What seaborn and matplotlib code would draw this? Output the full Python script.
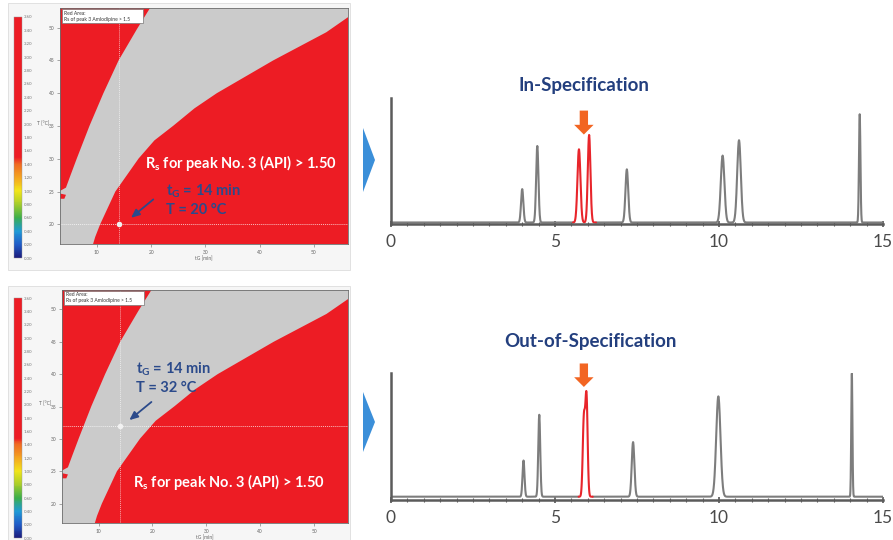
import numpy as np
import pandas as pd
import matplotlib
matplotlib.use("Agg")
import matplotlib.pyplot as plt
import seaborn as sns
from matplotlib.colors import LinearSegmentedColormap, Normalize
from matplotlib.cm import ScalarMappable
from matplotlib.patches import Polygon, Rectangle

# ---- data ----
# grey band (Rs <= 1.5) on the tG / T resolution map
left_edge_tg = [19.8, 17.4, 14.0, 11.2, 8.65, 6.3, 5.1, 4.3, 3.2]
left_edge_T = [53.0, 49.8, 45.0, 40.0, 35.05, 30.05, 27.4, 25.6, 25.1]
right_edge_tg = [9.3, 9.7, 10.6, 13.4, 17.7, 20.6, 24.1, 28.0, 32.1, 42.5, 52.3, 56.3]
right_edge_T = [17.0, 18.1, 20.0, 25.0, 30.05, 32.8, 35.05, 37.7, 40.0, 45.0, 49.3, 51.6]
blip_tg = [3.2, 4.3, 4.0, 3.2]
blip_T = [24.7, 24.5, 23.9, 23.9]

map_xticks = [10, 20, 30, 40, 50]
map_yticks = [20, 25, 30, 35, 40, 45, 50]
cbar_ticks = [0.0, 0.2, 0.4, 0.6, 0.8, 1.0, 1.2, 1.4, 1.6, 1.8, 2.0,
              2.2, 2.4, 2.6, 2.8, 3.0, 3.2, 3.4, 3.6]

working_points = [(14, 20), (14, 32)]  # (tG, T) for top / bottom map

# chromatograms: retention time, apex height, width (sigma)
top_rt = [4.00, 4.46, 5.73, 6.04, 7.19, 10.11, 10.61, 14.29]
top_h = [0.265, 0.607, 0.581, 0.695, 0.422, 0.531, 0.653, 0.859]
top_w = [0.035, 0.035, 0.045, 0.040, 0.042, 0.055, 0.055, 0.022]
top_red = (5.55, 6.25)

bot_rt = [4.04, 4.52, 5.88, 5.96, 7.38, 9.98, 14.05]
bot_h = [0.285, 0.645, 0.60, 0.78, 0.43, 0.79, 0.97]
bot_w = [0.030, 0.030, 0.035, 0.035, 0.040, 0.065, 0.018]
bot_red = (5.72, 6.15)

RED = "#ed1c24"
GREY = "#cbcbcb"
NAVY = "#2b4a8b"
TITLE = "#233f7e"

sns.set_style("white")
plt.rcParams["font.family"] = ["Lato", "DejaVu Sans"]
plt.rcParams["mathtext.fontset"] = "custom"
plt.rcParams["mathtext.rm"] = "Lato"
plt.rcParams["mathtext.bf"] = "Lato:bold"
plt.rcParams["mathtext.it"] = "Lato:italic"

W, H = 893, 540
fig = plt.figure(figsize=(W / 100, H / 100), dpi=100)


def box(x0, y0, x1, y1):
    # pixel box -> figure fraction [left, bottom, width, height]
    return [x0 / W, 1 - y1 / H, (x1 - x0) / W, (y1 - y0) / H]


cmap = LinearSegmentedColormap.from_list("rs", [
    (0.0, "#1b1c7e"), (0.2 / 3.6, "#1f5cc8"), (0.4 / 3.6, "#1e9ad6"),
    (0.6 / 3.6, "#3aae4a"), (0.8 / 3.6, "#a6cd2a"), (1.0 / 3.6, "#f2e51a"),
    (1.2 / 3.6, "#f4a41f"), (1.4 / 3.6, "#f06a22"), (1.5 / 3.6, RED),
    (1.0, RED)])


def draw_map(map_box, cbar_box, panel_box, point, texts):
    fig.patches.append(Rectangle(panel_box[:2], panel_box[2], panel_box[3],
                                 transform=fig.transFigure, fc="#f6f6f6",
                                 ec="#dddddd", lw=0.6, zorder=-5))
    ax = fig.add_axes(map_box)
    xlo, xhi, ylo, yhi = 3.2, 56.3, 17.0, 53.0
    ax.set_xlim(xlo, xhi)
    ax.set_ylim(ylo, yhi)
    ax.set_facecolor(RED)
    xs = left_edge_tg + [xlo, xlo] + right_edge_tg + [xhi]
    ys = left_edge_T + [left_edge_T[-1], ylo] + right_edge_T + [yhi]
    ax.fill(xs, ys, color=GREY, lw=0)
    ax.fill(blip_tg, blip_T, color=RED, lw=0)
    ax.axvline(point[0], color="white", lw=0.7, ls=(0, (1, 1)), alpha=0.6)
    ax.axhline(point[1], color="white", lw=0.7, ls=(0, (1, 1)), alpha=0.7)
    ax.scatter([point[0]], [point[1]], s=16, color="#f2f2f2", zorder=5,
               linewidths=0)
    ax.set_xticks(map_xticks)
    ax.set_yticks(map_yticks)
    ax.tick_params(labelsize=3.5, colors="#666666", length=2, width=0.4,
                   pad=2, left=True, bottom=True)
    ax.set_xlabel("tG [min]", fontsize=3.5, color="#666666", labelpad=1)
    ax.set_ylabel("T [°C]", fontsize=3.5, color="#666666", rotation=0,
                  labelpad=4)
    for s in ax.spines.values():
        s.set_color("#6d6d6d")
        s.set_linewidth(0.6)
    # legend box of the modelling software
    ax.add_patch(Rectangle((0.006, 0.937), 0.282, 0.058, transform=ax.transAxes,
                           fc="white", ec="#777777", lw=0.5, zorder=6))
    ax.text(0.015, 0.966, "Red Area:\nRs of peak 3 Amlodipine > 1.5",
            transform=ax.transAxes, fontsize=3.6, va="center", ha="left",
            color="#333333", linespacing=1.25, zorder=7)
    rs_xy, tg_xy, arr_from, arr_to, T_label = texts
    ax.text(*rs_xy, r"$\mathbf{R_s}$ for peak No. 3 (API) > 1.50",
            color="white", fontsize=10.5, fontweight="bold", va="center",
            ha="left")
    ax.text(*tg_xy, r"$\mathbf{t_G}$ = 14 min" + "\n" + T_label,
            color=NAVY, fontsize=10.5, fontweight="bold", va="center",
            ha="left", linespacing=1.25)
    ax.annotate("", xy=arr_to, xytext=arr_from,
                arrowprops=dict(arrowstyle="-|>,head_length=0.5,head_width=0.22",
                                color=NAVY, lw=1.3, shrinkA=0, shrinkB=0))

    cax = fig.add_axes(cbar_box)
    cb = fig.colorbar(ScalarMappable(norm=Normalize(0, 3.6), cmap=cmap),
                      cax=cax, ticks=cbar_ticks, format="%.2f")
    cb.outline.set_linewidth(0.3)
    cb.outline.set_edgecolor("#999999")
    cax.tick_params(labelsize=3.2, colors="#777777", length=0, pad=1)


draw_map(box(60, 8, 348, 244), box(14, 17, 22, 258), box(8, 3, 350, 270),
         working_points[0],
         ((18.9, 29.4), (22.8, 23.7), (20.4, 23.8), (16.3, 21.0), "T = 20 °C"))
draw_map(box(62, 290, 348, 523), box(14, 298, 22, 538), box(8, 286, 350, 540),
         working_points[1],
         ((16.3, 23.4), (17.0, 39.4), (19.8, 35.7), (15.7, 32.9), "T = 32 °C"))

# blue chevrons between the panels
for y0, y1 in [(128, 192), (392, 452)]:
    pts = [(363 / W, 1 - y0 / H), (375 / W, 1 - (y0 + y1) / 2 / H),
           (363 / W, 1 - y1 / H)]
    fig.patches.append(Polygon(pts, closed=True, transform=fig.transFigure,
                               fc="#3b8fd9", ec="none"))


def draw_chrom(ax_box, rt, hgt, wid, red_win, base, title, title_x, title_y,
               arrow_y):
    ax = fig.add_axes(ax_box)
    t = np.linspace(0, 15, 3001)
    sig = np.full_like(t, base)
    for p, h, w in zip(rt, hgt, wid):
        sig = sig + h * np.exp(-0.5 * ((t - p) / w) ** 2)
    df = pd.DataFrame({"t": t, "signal": sig})
    df["part"] = np.where((t >= red_win[0]) & (t <= red_win[1]), "red", "grey")
    df["seg"] = np.where(t < red_win[0], 0, np.where(t <= red_win[1], 1, 2))
    # repeat the window edges in the grey segments so the trace is continuous
    edges = df[df["t"].isin([df.loc[df.seg == 1, "t"].min(),
                             df.loc[df.seg == 1, "t"].max()])].copy()
    edges["part"] = "grey"
    edges["seg"] = [0, 2]
    df = pd.concat([df, edges], ignore_index=True)
    sns.lineplot(data=df, x="t", y="signal", hue="part", units="seg",
                 estimator=None, palette={"grey": "#7d7d7d", "red": "#e8252b"},
                 lw=1.5, legend=False, ax=ax)
    ax.set_xlim(0, 15)
    ax.set_ylim(0, 1)
    ax.set_xlabel("")
    ax.set_ylabel("")
    ax.set_yticks([])
    ax.set_xticks([0, 5, 10, 15])
    ax.set_xticks(np.arange(0, 15.01, 0.5), minor=True)
    ax.tick_params(axis="x", which="major", labelsize=12.5, colors="#555555",
                   labelcolor="#4a4a4a", length=4, width=1.2, pad=5,
                   direction="inout", bottom=True)
    ax.tick_params(axis="x", which="minor", colors="#555555", length=3,
                   width=0.8, direction="inout", bottom=True)
    sns.despine(ax=ax)
    for s in ("left", "bottom"):
        ax.spines[s].set_color("#5b5b5b")
        ax.spines[s].set_linewidth(1.8)
    ax.set_facecolor("none")
    ax.text(title_x, title_y, title, color=TITLE, fontsize=13.5,
            fontweight="bold", ha="center", va="center")
    ax.annotate("", xy=(5.88, arrow_y[1]), xytext=(5.88, arrow_y[0]),
                arrowprops=dict(arrowstyle="simple,head_length=0.7,head_width=1.4,tail_width=0.6",
                                color="#f26522", lw=0, shrinkA=0, shrinkB=0),
                annotation_clip=False)


draw_chrom(box(391, 98, 883, 224), top_rt, top_h, top_w, top_red, 0.012,
           "In-Specification", 5.88, 1.10, (0.90, 0.71))
draw_chrom(box(391, 373, 883, 500), bot_rt, bot_h, bot_w, bot_red, 0.026,
           "Out-of-Specification", 6.07, 1.25, (1.075, 0.89))

fig.savefig("out.png", dpi=100)
